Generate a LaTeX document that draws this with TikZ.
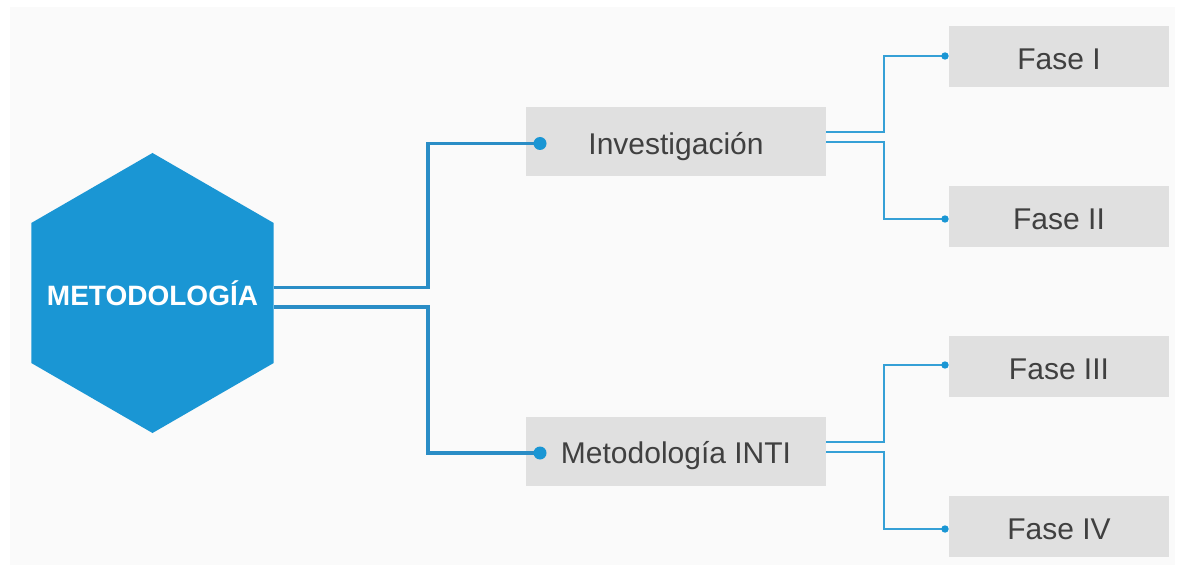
\documentclass[tikz,border=0pt]{standalone}
\usepackage{fontspec}
\setmainfont{Liberation Sans}
\definecolor{hexblue}{HTML}{1A96D4}
\definecolor{linkblue}{HTML}{2A8DC6}
\definecolor{thinblue}{HTML}{35A0D6}
\definecolor{boxgray}{HTML}{E0E0E0}
\definecolor{txtgray}{HTML}{404040}
\definecolor{bggray}{HTML}{FAFAFA}
\begin{document}
\begin{tikzpicture}[x=1pt,y=-1pt,
  box/.style={fill=boxgray, text=txtgray, font=\fontsize{30}{36}\selectfont, inner sep=0pt, outer sep=0pt, text height=28pt, text depth=2.6pt},
  midbox/.style={box, minimum width=300pt, minimum height=69pt},
  fasebox/.style={box, minimum width=220pt, minimum height=61pt},
  hexshape/.style={fill=hexblue},
  hexnode/.style={inner sep=0pt, outer sep=0pt, minimum width=242.4pt, text=white, font=\bfseries\fontsize{28}{34}\selectfont, text height=28pt, text depth=2.6pt},
  mainlink/.style={linkblue, line width=3.5pt},
  thinlink/.style={thinblue, line width=2pt},
  bigdot/.style={fill=hexblue},
  smalldot/.style={fill=hexblue}]
\useasboundingbox (0,0) rectangle (1183,569);
\fill[bggray] (10,7) rectangle (1175,565);

\fill[hexshape] (152.5,153) -- (273.7,223) -- (273.7,363) -- (152.5,433) -- (31.3,363) -- (31.3,223) -- cycle;
\node[hexnode] (hex) at (152.5,293) {METODOLOGÍA};

\node[midbox] (inv) at (676,141.5) {Investigación};
\node[midbox] (inti) at (676,451) {Metodología INTI};

\node[fasebox] (f1) at (1059,56.5) {Fase I};
\node[fasebox] (f2) at (1059,217) {Fase II};
\node[fasebox] (f3) at (1059,366.5) {Fase III};
\node[fasebox] (f4) at (1059,526.5) {Fase IV};

\coordinate (d1) at ([xshift=14pt,yshift=-2pt]inv.west);
\coordinate (d2) at ([xshift=14pt,yshift=-2pt]inti.west);
\coordinate (p1) at ([xshift=-4pt,yshift=0.5pt]f1.west);
\coordinate (p2) at ([xshift=-4pt,yshift=-2pt]f2.west);
\coordinate (p3) at ([xshift=-4pt,yshift=1.5pt]f3.west);
\coordinate (p4) at ([xshift=-4pt,yshift=-2.5pt]f4.west);

\draw[mainlink] ([yshift=5.5pt]hex.east) -- ++(154.5,0) |- (d1);
\draw[mainlink] ([yshift=-14pt]hex.east) -- ++(154.5,0) |- (d2);
\fill[bigdot] (d1) circle (6.5pt);
\fill[bigdot] (d2) circle (6.5pt);

\draw[thinlink] ([yshift=9pt]inv.east) -- ++(58,0) |- (p1);
\draw[thinlink] ([yshift=-1pt]inv.east) -- ++(58,0) |- (p2);
\draw[thinlink] ([yshift=9pt]inti.east) -- ++(58,0) |- (p3);
\draw[thinlink] ([yshift=-1pt]inti.east) -- ++(58,0) |- (p4);
\fill[smalldot] (p1) circle (3.7pt);
\fill[smalldot] (p2) circle (3.7pt);
\fill[smalldot] (p3) circle (3.7pt);
\fill[smalldot] (p4) circle (3.7pt);
\end{tikzpicture}
\end{document}
